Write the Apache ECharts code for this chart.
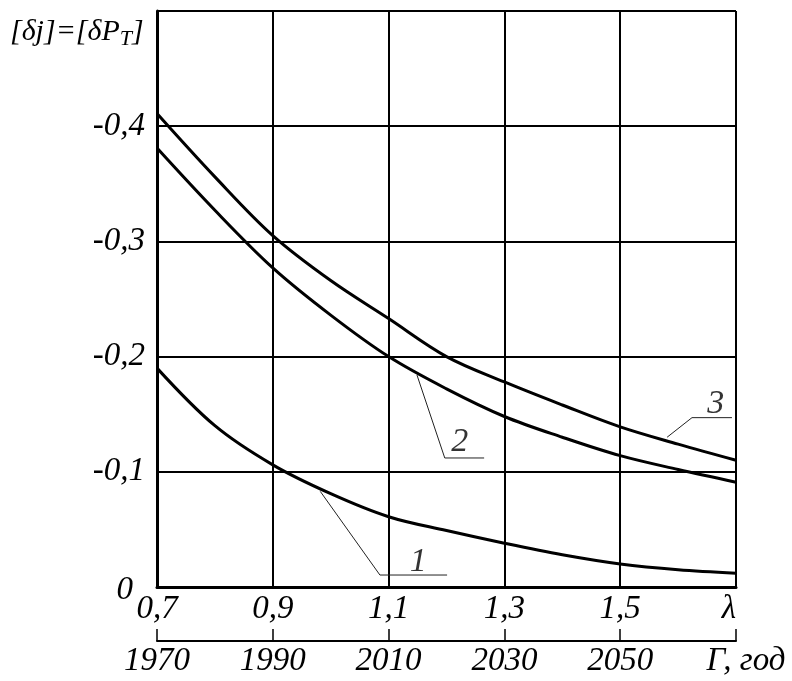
<!DOCTYPE html>
<html><head><meta charset="utf-8">
<script src="https://cdn.jsdelivr.net/npm/echarts@6/dist/echarts.min.js"></script>
<style>html,body{margin:0;padding:0;background:#fff}#c{width:792px;height:681px}</style>
</head><body><div id="c"></div>
<script>
const lambdaTicks = [0.7, 0.9, 1.1, 1.3, 1.5, 1.7];
const lambdaLabels = ['0,7', '0,9', '1,1', '1,3', '1,5', 'λ'];
const yearLabels = ['1970', '1990', '2010', '2030', '2050', 'Г, год'];
const yTicks = [0, 0.1, 0.2, 0.3, 0.4, 0.5];
const yLabels = ['0', '-0,1', '-0,2', '-0,3', '-0,4', ''];

const lambda = [0.7, 0.8, 0.9, 1.0, 1.1, 1.2, 1.3, 1.4, 1.5, 1.6, 1.7];
const curve1 = [0.190, 0.140, 0.106, 0.081, 0.061, 0.049, 0.038, 0.028, 0.020, 0.015, 0.012];
const curve2 = [0.381, 0.327, 0.277, 0.236, 0.200, 0.172, 0.148, 0.130, 0.114, 0.102, 0.091];
const curve3 = [0.411, 0.356, 0.305, 0.266, 0.233, 0.200, 0.178, 0.158, 0.139, 0.124, 0.110];

const leader1 = [[0.982, 0.083], [1.085, 0.0104], [1.201, 0.0104]];
const leader2 = [[1.149, 0.184], [1.197, 0.112], [1.265, 0.112]];
const leader3 = [[1.581, 0.130], [1.624, 0.147], [1.693, 0.147]];
const curveNames = ['1', '2', '3'];
const curveLabelPos = [[1.151, 0.0217], [1.223, 0.1258], [1.665, 0.1587]];

const FONT = 'Liberation Serif';
const FS = 33;
function idx(arr, v) { return arr.findIndex(t => Math.abs(t - v) < 1e-6); }
function zip(xs, ys) { return xs.map((x, i) => [x, ys[i]]); }

const chart = echarts.init(document.getElementById('c'), null, {renderer: 'canvas'});
const curveStyle = {color: '#000', width: 3};
const leaderStyle = {color: '#222', width: 1};

const option = {
  animation: false,
  backgroundColor: '#fff',
  grid: {left: 157, right: 56, top: 11, bottom: 94, containLabel: false},
  graphic: [{
    type: 'text', left: 10, top: 15, silent: true,
    style: {
      text: '{m|[δj]=[δ}{m|P}{s|T}{m|]}',
      rich: {
        m: {fontFamily: FONT, fontStyle: 'italic', fontSize: 30, fill: '#000', lineHeight: 36},
        s: {fontFamily: FONT, fontStyle: 'italic', fontSize: 22, fill: '#000', lineHeight: 36, verticalAlign: 'bottom', padding: [13, 0, 0, 0]}
      }
    }
  }],
  xAxis: [{
    type: 'value', min: 0.7, max: 1.7, interval: 0.2,
    axisLine: {show: true, onZero: false, lineStyle: {color: '#000', width: 3}},
    axisTick: {show: false},
    splitLine: {show: true, lineStyle: {color: '#000', width: 2}},
    axisLabel: {
      show: true, margin: 6, showMinLabel: true, showMaxLabel: true,
      fontFamily: FONT, fontStyle: 'italic', fontSize: FS, color: '#000',
      formatter: v => { const i = idx(lambdaTicks, v); return i < 0 ? '' : (i === lambdaTicks.length - 1 ? '{l|' + lambdaLabels[i] + '}' : lambdaLabels[i]); },
      rich: {l: {fontFamily: FONT, fontSize: FS, color: '#000', padding: [0, 14, 0, 0]}}
    }
  }, {
    type: 'value', min: 0.7, max: 1.7, interval: 0.2, position: 'bottom', offset: 54,
    axisLine: {show: true, onZero: false, lineStyle: {color: '#000', width: 2}},
    axisTick: {show: true, inside: true, length: 12, lineStyle: {color: '#000', width: 1.5}},
    splitLine: {show: false},
    axisLabel: {
      show: true, margin: 4, showMinLabel: true, showMaxLabel: true,
      fontFamily: FONT, fontStyle: 'italic', fontSize: FS, color: '#000',
      formatter: v => { const i = idx(lambdaTicks, v); return i < 0 ? '' : (i === lambdaTicks.length - 1 ? '{g|' + yearLabels[i] + '}' : yearLabels[i]); },
      rich: {g: {fontFamily: FONT, fontStyle: 'italic', fontSize: FS, color: '#000', padding: [0, 0, 0, 20]}}
    }
  }],
  yAxis: {
    type: 'value', min: 0, max: 0.5, interval: 0.1,
    axisLine: {show: true, onZero: false, lineStyle: {color: '#000', width: 3}},
    axisTick: {show: false},
    splitLine: {show: true, lineStyle: {color: '#000', width: 2}},
    axisLabel: {
      show: true, margin: 12, showMinLabel: true, showMaxLabel: true,
      fontFamily: FONT, fontStyle: 'italic', fontSize: FS, color: '#000',
      formatter: v => { const i = idx(yTicks, v); if (i < 0) return ''; return i === 0 ? '{z|' + yLabels[i] + '}' : yLabels[i]; },
      rich: {z: {fontFamily: FONT, fontStyle: 'italic', fontSize: FS, color: '#000', padding: [6, 12, 0, 0]}}
    }
  },
  series: [
    {type: 'line', data: zip(lambda, curve1), smooth: 0.35, symbol: 'none', lineStyle: curveStyle, silent: true, z: 5},
    {type: 'line', data: zip(lambda, curve2), smooth: 0.35, symbol: 'none', lineStyle: curveStyle, silent: true, z: 5},
    {type: 'line', data: zip(lambda, curve3), smooth: 0.35, symbol: 'none', lineStyle: curveStyle, silent: true, z: 5},
    {type: 'line', data: leader1, symbol: 'none', lineStyle: leaderStyle, silent: true, z: 4},
    {type: 'line', data: leader2, symbol: 'none', lineStyle: leaderStyle, silent: true, z: 4},
    {type: 'line', data: leader3, symbol: 'none', lineStyle: leaderStyle, silent: true, z: 4},
    {
      type: 'scatter', symbolSize: 0, silent: true, z: 6,
      data: curveLabelPos.map((p, i) => ({value: p, name: curveNames[i]})),
      label: {show: true, position: 'inside', formatter: p => p.name,
        fontFamily: FONT, fontStyle: 'italic', fontSize: 34, color: '#000'}
    }
  ]
};
chart.setOption(option);
</script>
</body></html>
